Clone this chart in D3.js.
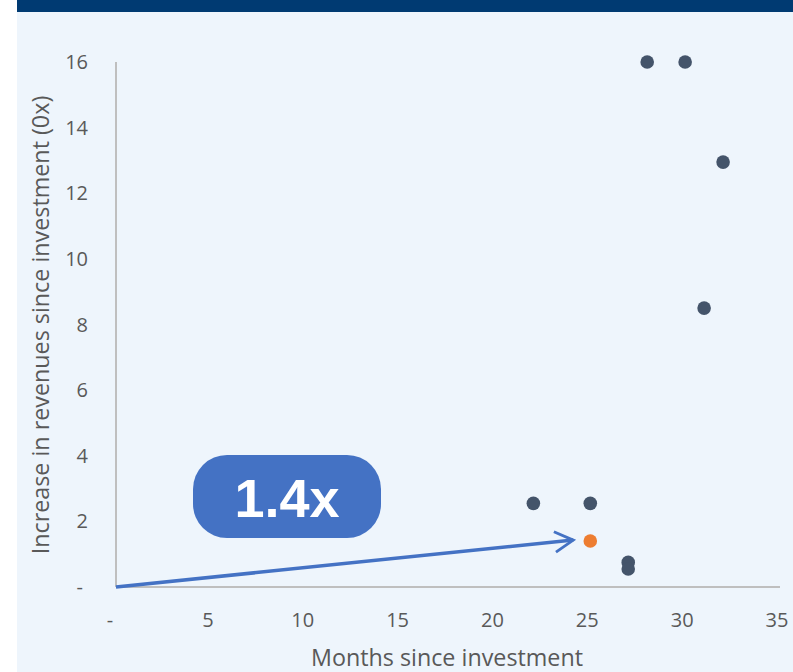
<!DOCTYPE html>
<html>
<head>
<style>
body {margin:0; background:#fff;}
text {font-family: "Open Sans", sans-serif;}
</style>
<script src="https://d3js.org/d3.v7.min.js"></script>
</head>
<body>
<svg id="vis" width="793" height="672"></svg>
<script>
// data
var months   = [28, 30, 32, 31, 22, 25, 27, 27];
var revenues = [16, 16, 12.95, 8.5, 2.55, 2.55, 0.75, 0.55];
var focusMonth = [25];
var focusRevenue = [1.4];
var xTicks = [0, 5, 10, 15, 20, 25, 30, 35];
var yTicks = [0, 2, 4, 6, 8, 10, 12, 14, 16];
var arrowFrom = [0, 0];
var arrowTo = [24.1, 1.43];

var svg = d3.select("#vis");

svg.append("rect").attr("x", 17).attr("y", 0).attr("width", 776).attr("height", 672).style("fill", "#EEF5FC");
svg.append("rect").attr("x", 17).attr("y", 0).attr("width", 776).attr("height", 12).style("fill", "#003A72");

var x = d3.scaleLinear().domain([0, 35]).range([116, 780]);
var y = d3.scaleLinear().domain([0, 16]).range([587, 62]);

// axes
svg.append("line").attr("x1", x(0)).attr("x2", x(0)).attr("y1", y(16)).attr("y2", y(0))
  .style("stroke", "#BFBFBF").style("stroke-width", 2);
svg.append("line").attr("x1", x(0)).attr("x2", x(35)).attr("y1", y(0)).attr("y2", y(0))
  .style("stroke", "#BFBFBF").style("stroke-width", 2);

svg.selectAll(".ylab").data(yTicks).enter().append("text")
  .attr("x", function(d){ return d == 0 ? 83 : 88 })
  .attr("y", function(d){ return y(d) + 7 })
  .attr("text-anchor", "end")
  .style("font-size", "20px").style("fill", "#595959")
  .text(function(d){ return d == 0 ? "-" : d });

svg.selectAll(".xlab").data(xTicks).enter().append("text")
  .attr("x", function(d){ return d == 0 ? x(d) - 6 : x(d) - 3 })
  .attr("y", 627)
  .attr("text-anchor", "middle")
  .style("font-size", "20px").style("fill", "#595959")
  .text(function(d){ return d == 0 ? "-" : d });

svg.append("text").attr("x", 447).attr("y", 666).attr("text-anchor", "middle")
  .style("font-size", "23.3px").style("fill", "#595959").text("Months since investment");
svg.append("text").attr("transform", "translate(49,325) rotate(-90)").attr("text-anchor", "middle")
  .style("font-size", "23.3px").style("fill", "#595959").text("Increase in revenues since investment (0x)");

// points
svg.selectAll(".pt").data(months).enter().append("circle")
  .attr("cx", function(d){ return x(d) })
  .attr("cy", function(d, i){ return y(revenues[i]) })
  .attr("r", 6.8).style("fill", "#44546A");
svg.selectAll(".fp").data(focusMonth).enter().append("circle")
  .attr("cx", function(d){ return x(d) })
  .attr("cy", function(d, i){ return y(focusRevenue[i]) })
  .attr("r", 6.8).style("fill", "#ED7D31");

// arrow
svg.append("defs").append("marker").attr("id", "head")
  .attr("viewBox", "0 0 12 12").attr("refX", 10).attr("refY", 6)
  .attr("markerWidth", 7).attr("markerHeight", 7).attr("orient", "auto")
  .attr("markerUnits", "strokeWidth")
  .append("path").attr("d", "M1,1 L10,6 L1,11")
  .style("fill", "none").style("stroke", "#4472C4").style("stroke-width", 1.4);
svg.append("line")
  .attr("x1", x(arrowFrom[0])).attr("y1", y(arrowFrom[1]))
  .attr("x2", x(arrowTo[0])).attr("y2", y(arrowTo[1]))
  .style("stroke", "#4472C4").style("stroke-width", 3.5)
  .attr("marker-end", "url(#head)");

// label
svg.append("rect").attr("x", 193).attr("y", 455).attr("width", 188).attr("height", 83)
  .attr("rx", 34).style("fill", "#4472C4");
svg.append("text").attr("x", 287).attr("y", 517).attr("text-anchor", "middle")
  .style("font-family", "Arial, 'Liberation Sans', sans-serif")
  .style("font-size", "54px").style("font-weight", "bold").style("fill", "#fff").text("1.4x");
</script>
</body>
</html>
